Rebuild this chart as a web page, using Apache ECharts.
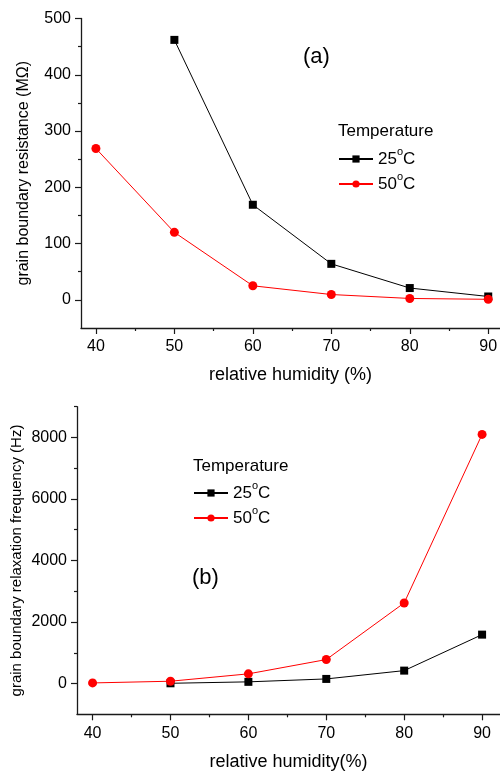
<!DOCTYPE html>
<html><head><meta charset="utf-8">
<script src="https://cdn.jsdelivr.net/npm/echarts@6/dist/echarts.min.js"></script>
<style>html,body{margin:0;padding:0;background:#fff}#c{width:500px;height:771px}</style>
</head><body><div id="c"></div>
<script>
// ---- data ----
const humidity = [40, 50, 60, 70, 80, 90];
const resist25 = [null, 462, 169, 64, 21, 6];      // MΩ, 25°C
const resist50 = [269, 120, 25, 9.5, 2.5, 1];      // MΩ, 50°C
const freq25 = [null, 8, 55, 150, 420, 1590];      // Hz, 25°C
const freq50 = [20, 75, 315, 780, 2620, 8100];     // Hz, 50°C
const xTicks = [40, 50, 60, 70, 80, 90];
const xMinor = [45, 55, 65, 75, 85];
const resTicks = [0, 100, 200, 300, 400, 500];
const resMinor = [50, 150, 250, 350, 450];
const freqTicks = [0, 2000, 4000, 6000, 8000];
const freqMinor = [1000, 3000, 5000, 7000, 9000];
const seriesNames = ['25°C', '50°C'];

const FONT = '"Liberation Sans", Arial, sans-serif';
const AX = '#1a1a1a';
const pairs = arr => humidity.map((h, i) => [h, arr[i]]).filter(p => p[1] != null);
const plain = v => String(v);

function mainX(grid, min, max, name, gap) {
  return {
    type: 'value', gridIndex: grid, position: 'bottom', min, max,
    name, nameLocation: 'middle', nameGap: gap, nameMoveOverlap: false,
    nameTextStyle: { fontFamily: FONT, fontSize: 18, color: '#000' },
    axisLine: { show: true, onZero: false, lineStyle: { color: AX, width: 1.3 } },
    axisTick: { show: true, customValues: xTicks, length: 6, inside: false, lineStyle: { color: AX, width: 1.2 } },
    axisLabel: { customValues: xTicks, formatter: plain, margin: 11, fontFamily: FONT, fontSize: 16, color: '#000' },
    splitLine: { show: false }
  };
}
function minorX(grid, min, max) {
  return {
    type: 'value', gridIndex: grid, position: 'bottom', min, max,
    axisLine: { show: false, onZero: false },
    axisTick: { show: true, customValues: xMinor, length: 3, lineStyle: { color: AX, width: 1.2 } },
    axisLabel: { show: false }, splitLine: { show: false }
  };
}
function mainY(grid, min, max, ticks, name, gap, fs) {
  return {
    type: 'value', gridIndex: grid, position: 'left', min, max,
    name, nameLocation: 'middle', nameGap: gap, nameMoveOverlap: false,
    nameTextStyle: { fontFamily: FONT, fontSize: fs, color: '#000' },
    axisLine: { show: true, onZero: false, lineStyle: { color: AX, width: 1.3 } },
    axisTick: { show: true, customValues: ticks, length: 6, lineStyle: { color: AX, width: 1.2 } },
    axisLabel: { customValues: ticks, formatter: plain, margin: 10, fontFamily: FONT, fontSize: 16, color: '#000' },
    splitLine: { show: false }
  };
}
function minorY(grid, min, max, ticks) {
  return {
    type: 'value', gridIndex: grid, position: 'left', min, max,
    axisLine: { show: false, onZero: false },
    axisTick: { show: true, customValues: ticks, length: 3, lineStyle: { color: AX, width: 1.2 } },
    axisLabel: { show: false }, splitLine: { show: false }
  };
}
function line(name, data, xi, yi, color, symbol, size) {
  return {
    type: 'line', name, data, xAxisIndex: xi, yAxisIndex: yi,
    symbol, symbolSize: size, showSymbol: true,
    lineStyle: { color, width: 1 }, itemStyle: { color, borderWidth: 0 },
    animation: false, z: 3
  };
}
function legendCfg(left, top) {
  return {
    orient: 'vertical', left, top, padding: 0, itemWidth: 34, itemHeight: 9, itemGap: 0,
    data: seriesNames, selectedMode: false,
    formatter: n => n.replace('°', '{sup|o}'),
    textStyle: {
      fontFamily: FONT, fontSize: 17, color: '#000', lineHeight: 25,
      rich: { sup: { fontSize: 11, verticalAlign: 'top', lineHeight: 9, fontFamily: FONT, color: '#000' } }
    }
  };
}

const chart = echarts.init(document.getElementById('c'), null, { renderer: 'canvas' });
chart.setOption({
  backgroundColor: '#fff',
  animation: false,
  grid: [
    { left: 81, top: 18.5, width: 419, height: 309.5, outerBoundsMode: 'none' },
    { left: 77, top: 406.7, width: 423, height: 307.6, outerBoundsMode: 'none' }
  ],
  xAxis: [
    mainX(0, 38.1, 91.5, 'relative humidity (%)', 38),
    minorX(0, 38.1, 91.5),
    mainX(1, 38, 92.3, 'relative humidity(%)', 39),
    minorX(1, 38, 92.3)
  ],
  yAxis: [
    mainY(0, -50, 500, resTicks, 'grain boundary resistance (MΩ)', 49, 16),
    minorY(0, -50, 500, resMinor),
    mainY(1, -1000, 9000, freqTicks, 'grain boundary relaxation frequency (Hz)', 53, 15),
    minorY(1, -1000, 9000, freqMinor)
  ],
  legend: [legendCfg(338, 146.5), legendCfg(193, 480.5)],
  graphic: [
    { type: 'text', left: 303, top: 46, style: { text: '(a)', font: '22px ' + FONT, fill: '#000' } },
    { type: 'text', left: 338, top: 123, style: { text: 'Temperature', font: '17px ' + FONT, fill: '#000' } },
    { type: 'text', left: 192, top: 567, style: { text: '(b)', font: '22px ' + FONT, fill: '#000' } },
    { type: 'text', left: 193, top: 458, style: { text: 'Temperature', font: '17px ' + FONT, fill: '#000' } }
  ],
  series: [
    line(seriesNames[0], pairs(resist25), 0, 0, '#000000', 'rect', 8),
    line(seriesNames[1], pairs(resist50), 0, 0, '#ff0000', 'circle', 9),
    line(seriesNames[0], pairs(freq25), 2, 2, '#000000', 'rect', 8),
    line(seriesNames[1], pairs(freq50), 2, 2, '#ff0000', 'circle', 9)
  ]
});
</script></body></html>
